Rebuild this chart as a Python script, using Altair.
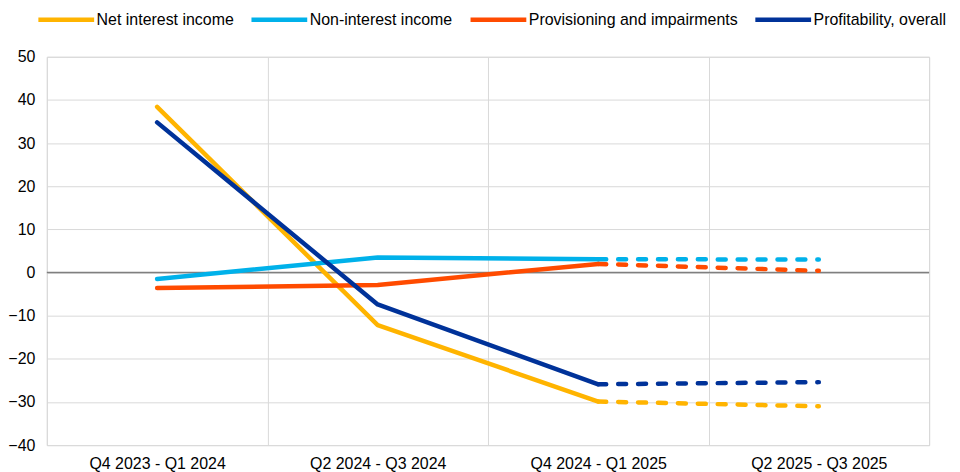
import altair as alt
import pandas as pd

periods = ["Q4 2023 - Q1 2024", "Q2 2024 - Q3 2024", "Q4 2024 - Q1 2025", "Q2 2025 - Q3 2025"]
series = ["Net interest income", "Non-interest income", "Provisioning and impairments", "Profitability, overall"]
colors = ["#FFB400", "#00B1EA", "#FF4B00", "#003299"]

net_interest = [38.4, -12.2, -29.9, -31.0]
non_interest = [-1.5, 3.5, 3.1, 3.0]
provisioning = [-3.6, -2.9, 2.0, 0.4]
profitability = [34.8, -7.4, -25.9, -25.4]

values = [net_interest, non_interest, provisioning, profitability]

rows = []
for s, vals in zip(series, values):
    for i, (p, v) in enumerate(zip(periods, vals)):
        rows.append({"period": p, "series": s, "value": v, "idx": i})
df = pd.DataFrame(rows)

FONT = "Liberation Sans"

x = alt.X(
    "period:N",
    sort=periods,
    scale=alt.Scale(type="band", domain=periods, paddingInner=0, paddingOuter=0),
    axis=alt.Axis(
        title=None, labelAngle=0, grid=True, tickBand="extent", ticks=False, domain=False,
        labelFontSize=16, labelPadding=10, labelColor="#000000", gridColor="#d9d9d9",
        labelFont=FONT,
    ),
)
y = alt.Y(
    "value:Q",
    scale=alt.Scale(domain=[-40, 50], nice=False, zero=False),
    axis=alt.Axis(
        title=None, values=list(range(-40, 60, 10)), ticks=False, domain=False,
        labelFontSize=16, labelPadding=12, labelColor="#000000", gridColor="#d9d9d9",
        labelFont=FONT,
    ),
)

color_solid = alt.Color(
    "series:N",
    sort=series,
    scale=alt.Scale(domain=series, range=colors),
    legend=alt.Legend(
        title=None, orient="none", legendX=-11, legendY=-68, direction="horizontal",
        columns=4, symbolType="stroke", symbolSize=3136, symbolStrokeWidth=4.5,
        labelFontSize=16, labelOffset=0, columnPadding=8, padding=0,
        labelFont=FONT, labelColor="#000000", labelLimit=300,
    ),
)
color_dashed = alt.Color("series:N", sort=series, scale=alt.Scale(domain=series, range=colors), legend=None)

base = alt.Chart(df)

solid = base.transform_filter("datum.idx <= 2").mark_line(
    strokeWidth=4.5, strokeCap="round", strokeJoin="round"
).encode(x=x, y=y, color=color_solid, order="idx:Q")

dashed = base.transform_filter("datum.idx >= 2").mark_line(
    strokeWidth=4.5, strokeCap="round", strokeDash=[8, 12]
).encode(x=x, y=y, color=color_dashed, order="idx:Q")

zero = alt.Chart(pd.DataFrame({"y": [0]})).mark_rule(color="#7f7f7f", strokeWidth=1.5).encode(y="y:Q")

chart = alt.layer(zero, solid, dashed).properties(
    width=886,
    height=390,
    autosize=alt.AutoSizeParams(type="none"),
    padding={"left": 39, "top": 48, "right": 23, "bottom": 26},
).configure(font=FONT).configure_view(stroke="#d9d9d9")

chart.save("out.html", embed_options={"renderer": "svg", "actions": False})
